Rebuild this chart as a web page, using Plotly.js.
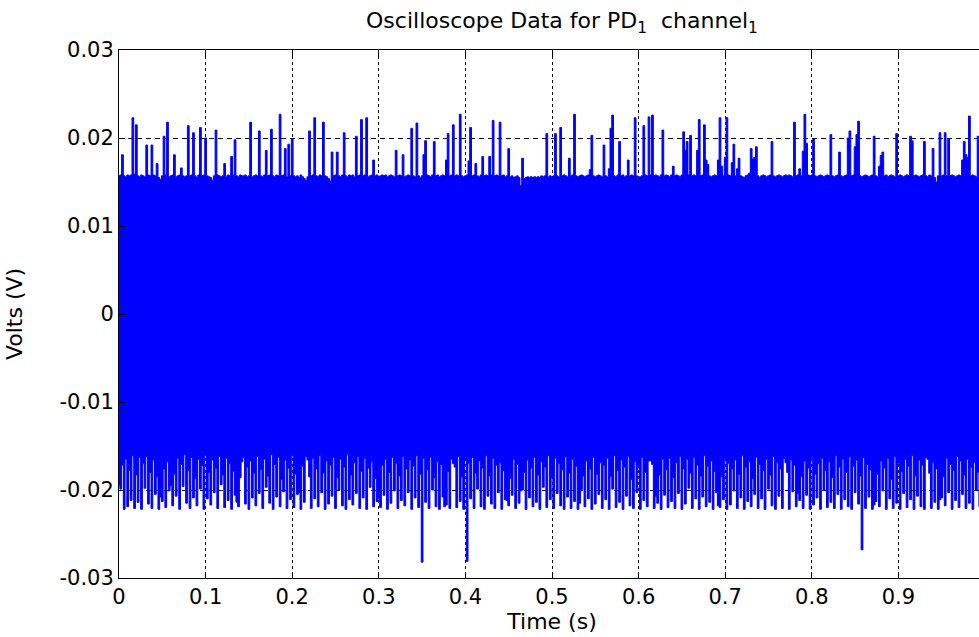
<!DOCTYPE html>
<html>
<head>
<meta charset="utf-8">
<script src="https://cdn.plot.ly/plotly-3.0.1.min.js"></script>
<style>
html,body{margin:0;padding:0;overflow:hidden;background:#ffffff;}
#chart{width:990px;height:637px;}
</style>
</head>
<body>
<div id="chart"></div>
<script>
// Sampling grid of the envelope readings (seconds)
const sampleStart = 0;
const sampleStep = 0.002;

// Upper envelope of the signal (V), one reading per sample
const upperEnvelope = [
0.0157,0.0158,0.0181,0.0157,0.0156,0.0158,0.0157,0.0158,0.0223,0.0159,0.0215,0.0157,0.0156,0.0158,0.0157,0.0156,0.0192,0.0158,0.0157,0.0192,
0.0158,0.0157,0.0171,0.0155,0.0153,0.0157,0.0202,0.0158,0.0218,0.0156,0.0157,0.0158,0.0181,0.0156,0.0157,0.0158,0.0166,0.0157,0.0156,0.0157,
0.0214,0.0157,0.0158,0.0206,0.0157,0.0155,0.0158,0.0212,0.0157,0.0158,0.0200,0.0157,0.0156,0.0155,0.0152,0.0157,0.0209,0.0158,0.0157,0.0156,
0.0157,0.0171,0.0156,0.0158,0.0157,0.0179,0.0158,0.0198,0.0157,0.0156,0.0158,0.0157,0.0157,0.0158,0.0156,0.0157,0.0218,0.0156,0.0157,0.0158,
0.0157,0.0208,0.0157,0.0156,0.0158,0.0186,0.0157,0.0158,0.0210,0.0157,0.0156,0.0158,0.0157,0.0227,0.0157,0.0158,0.0188,0.0156,0.0193,0.0157,
0.0199,0.0157,0.0156,0.0157,0.0155,0.0158,0.0156,0.0154,0.0152,0.0156,0.0208,0.0157,0.0158,0.0223,0.0157,0.0156,0.0158,0.0157,0.0218,0.0157,
0.0156,0.0154,0.0151,0.0184,0.0157,0.0158,0.0184,0.0157,0.0156,0.0158,0.0206,0.0157,0.0156,0.0158,0.0157,0.0158,0.0156,0.0202,0.0157,0.0158,
0.0221,0.0157,0.0158,0.0223,0.0156,0.0157,0.0158,0.0175,0.0157,0.0158,0.0156,0.0157,0.0158,0.0157,0.0158,0.0156,0.0157,0.0158,0.0157,0.0156,
0.0186,0.0157,0.0158,0.0157,0.0181,0.0156,0.0157,0.0158,0.0157,0.0211,0.0157,0.0156,0.0217,0.0157,0.0155,0.0157,0.0181,0.0197,0.0158,0.0157,
0.0156,0.0158,0.0196,0.0157,0.0158,0.0156,0.0157,0.0158,0.0157,0.0175,0.0205,0.0157,0.0158,0.0215,0.0157,0.0158,0.0157,0.0227,0.0157,0.0156,
0.0157,0.0158,0.0174,0.0212,0.0157,0.0158,0.0171,0.0157,0.0156,0.0158,0.0179,0.0157,0.0158,0.0157,0.0179,0.0158,0.0220,0.0157,0.0158,0.0157,
0.0218,0.0157,0.0158,0.0156,0.0157,0.0188,0.0156,0.0157,0.0155,0.0156,0.0157,0.0155,0.0146,0.0177,0.0154,0.0155,0.0156,0.0155,0.0156,0.0155,
0.0156,0.0155,0.0156,0.0155,0.0157,0.0156,0.0157,0.0205,0.0156,0.0157,0.0156,0.0157,0.0205,0.0157,0.0156,0.0212,0.0157,0.0158,0.0157,0.0156,
0.0177,0.0157,0.0158,0.0227,0.0157,0.0156,0.0157,0.0158,0.0157,0.0156,0.0157,0.0158,0.0164,0.0203,0.0157,0.0156,0.0157,0.0158,0.0157,0.0156,
0.0192,0.0157,0.0156,0.0165,0.0211,0.0226,0.0157,0.0156,0.0158,0.0196,0.0157,0.0158,0.0156,0.0157,0.0175,0.0157,0.0158,0.0157,0.0223,0.0157,
0.0153,0.0156,0.0157,0.0214,0.0158,0.0157,0.0224,0.0158,0.0226,0.0157,0.0158,0.0157,0.0156,0.0158,0.0209,0.0157,0.0158,0.0157,0.0156,0.0158,
0.0168,0.0157,0.0158,0.0157,0.0156,0.0158,0.0207,0.0186,0.0196,0.0158,0.0203,0.0157,0.0158,0.0157,0.0186,0.0221,0.0157,0.0158,0.0215,0.0175,
0.0170,0.0157,0.0156,0.0157,0.0158,0.0157,0.0175,0.0223,0.0168,0.0157,0.0178,0.0223,0.0158,0.0157,0.0172,0.0193,0.0157,0.0165,0.0177,0.0157,
0.0156,0.0155,0.0157,0.0158,0.0160,0.0188,0.0176,0.0178,0.0190,0.0157,0.0155,0.0157,0.0158,0.0157,0.0156,0.0157,0.0158,0.0196,0.0157,0.0156,
0.0157,0.0158,0.0157,0.0156,0.0157,0.0158,0.0157,0.0158,0.0157,0.0156,0.0218,0.0157,0.0158,0.0165,0.0157,0.0185,0.0227,0.0194,0.0158,0.0157,
0.0158,0.0199,0.0157,0.0156,0.0157,0.0158,0.0157,0.0156,0.0157,0.0158,0.0157,0.0204,0.0157,0.0156,0.0157,0.0158,0.0184,0.0157,0.0156,0.0157,
0.0158,0.0200,0.0208,0.0157,0.0158,0.0190,0.0204,0.0219,0.0157,0.0156,0.0157,0.0158,0.0157,0.0156,0.0157,0.0158,0.0202,0.0157,0.0156,0.0168,
0.0180,0.0184,0.0157,0.0158,0.0156,0.0157,0.0158,0.0157,0.0156,0.0205,0.0157,0.0158,0.0157,0.0156,0.0157,0.0158,0.0157,0.0202,0.0197,0.0157,
0.0158,0.0157,0.0156,0.0157,0.0158,0.0196,0.0157,0.0156,0.0158,0.0157,0.0188,0.0155,0.0150,0.0157,0.0206,0.0157,0.0158,0.0206,0.0157,0.0199,
0.0157,0.0158,0.0157,0.0156,0.0157,0.0158,0.0157,0.0175,0.0196,0.0181,0.0178,0.0225,0.0157,0.0158,0.0157,0.0156,0.0202,0.0157,0.0158,0.0157
];

// Lower envelope of the signal (V), one reading per sample
const lowerEnvelope = [
-0.0195,-0.0199,-0.0172,-0.0222,-0.0165,-0.0219,-0.0178,-0.0212,-0.0161,-0.0221,-0.0183,-0.0214,-0.0163,-0.0222,-0.0170,-0.0198,-0.0162,-0.0216,-0.0180,-0.0221,
-0.0166,-0.0205,-0.0185,-0.0222,-0.0208,-0.0213,-0.0176,-0.0220,-0.0168,-0.0201,-0.0195,-0.0218,-0.0182,-0.0207,-0.0164,-0.0222,-0.0171,-0.0196,-0.0160,-0.0215,
-0.0178,-0.0221,-0.0163,-0.0209,-0.0187,-0.0218,-0.0165,-0.0199,-0.0172,-0.0222,-0.0161,-0.0210,-0.0180,-0.0217,-0.0166,-0.0203,-0.0175,-0.0221,-0.0162,-0.0194,
-0.0183,-0.0220,-0.0164,-0.0212,-0.0170,-0.0222,-0.0179,-0.0206,-0.0214,-0.0219,-0.0186,-0.0168,-0.0163,-0.0216,-0.0174,-0.0222,-0.0167,-0.0209,-0.0181,-0.0218,
-0.0162,-0.0204,-0.0177,-0.0221,-0.0165,-0.0197,-0.0184,-0.0215,-0.0160,-0.0222,-0.0171,-0.0208,-0.0163,-0.0219,-0.0188,-0.0202,-0.0166,-0.0221,-0.0175,-0.0211,
-0.0161,-0.0220,-0.0182,-0.0205,-0.0203,-0.0222,-0.0173,-0.0214,-0.0162,-0.0166,-0.0185,-0.0221,-0.0164,-0.0210,-0.0176,-0.0219,-0.0161,-0.0203,-0.0181,-0.0222,
-0.0167,-0.0216,-0.0172,-0.0207,-0.0163,-0.0221,-0.0186,-0.0200,-0.0165,-0.0218,-0.0174,-0.0222,-0.0160,-0.0211,-0.0183,-0.0217,-0.0169,-0.0204,-0.0162,-0.0221,
-0.0179,-0.0209,-0.0164,-0.0222,-0.0175,-0.0197,-0.0168,-0.0219,-0.0187,-0.0213,-0.0210,-0.0220,-0.0172,-0.0206,-0.0165,-0.0222,-0.0180,-0.0215,-0.0163,-0.0201,
-0.0170,-0.0221,-0.0184,-0.0212,-0.0162,-0.0218,-0.0176,-0.0203,-0.0166,-0.0222,-0.0173,-0.0209,-0.0161,-0.0220,-0.0182,-0.0282,-0.0164,-0.0214,-0.0177,-0.0221,
-0.0163,-0.0200,-0.0186,-0.0219,-0.0168,-0.0222,-0.0171,-0.0208,-0.0219,-0.0217,-0.0179,-0.0221,-0.0165,-0.0170,-0.0174,-0.0220,-0.0162,-0.0213,-0.0185,-0.0222,
-0.0166,-0.0281,-0.0170,-0.0210,-0.0163,-0.0221,-0.0181,-0.0199,-0.0167,-0.0219,-0.0175,-0.0222,-0.0161,-0.0207,-0.0184,-0.0216,-0.0164,-0.0221,-0.0172,-0.0203,
-0.0169,-0.0222,-0.0178,-0.0211,-0.0212,-0.0218,-0.0187,-0.0206,-0.0165,-0.0221,-0.0171,-0.0215,-0.0201,-0.0200,-0.0180,-0.0222,-0.0166,-0.0209,-0.0175,-0.0219,
-0.0163,-0.0214,-0.0183,-0.0222,-0.0168,-0.0197,-0.0174,-0.0220,-0.0161,-0.0211,-0.0186,-0.0221,-0.0164,-0.0204,-0.0170,-0.0218,-0.0177,-0.0222,-0.0162,-0.0208,
-0.0181,-0.0221,-0.0165,-0.0213,-0.0173,-0.0222,-0.0215,-0.0201,-0.0184,-0.0219,-0.0167,-0.0210,-0.0176,-0.0222,-0.0163,-0.0216,-0.0182,-0.0205,-0.0169,-0.0221,
-0.0172,-0.0211,-0.0164,-0.0222,-0.0185,-0.0199,-0.0161,-0.0220,-0.0178,-0.0214,-0.0166,-0.0222,-0.0174,-0.0207,-0.0162,-0.0218,-0.0188,-0.0221,-0.0168,-0.0203,
-0.0175,-0.0222,-0.0163,-0.0212,-0.0180,-0.0219,-0.0167,-0.0167,-0.0171,-0.0221,-0.0207,-0.0215,-0.0183,-0.0222,-0.0165,-0.0206,-0.0177,-0.0220,-0.0164,-0.0213,
-0.0186,-0.0221,-0.0169,-0.0204,-0.0162,-0.0222,-0.0176,-0.0216,-0.0165,-0.0198,-0.0181,-0.0221,-0.0163,-0.0210,-0.0172,-0.0222,-0.0184,-0.0208,-0.0161,-0.0219,
-0.0173,-0.0214,-0.0167,-0.0222,-0.0179,-0.0203,-0.0218,-0.0220,-0.0185,-0.0211,-0.0164,-0.0222,-0.0170,-0.0217,-0.0176,-0.0201,-0.0166,-0.0221,-0.0182,-0.0209,
-0.0161,-0.0222,-0.0174,-0.0213,-0.0168,-0.0219,-0.0187,-0.0205,-0.0163,-0.0221,-0.0171,-0.0210,-0.0178,-0.0222,-0.0165,-0.0199,-0.0183,-0.0218,-0.0162,-0.0222,
-0.0169,-0.0207,-0.0176,-0.0221,-0.0164,-0.0169,-0.0180,-0.0222,-0.0166,-0.0202,-0.0172,-0.0219,-0.0204,-0.0212,-0.0185,-0.0221,-0.0167,-0.0206,-0.0175,-0.0222,
-0.0163,-0.0217,-0.0182,-0.0209,-0.0170,-0.0222,-0.0164,-0.0200,-0.0178,-0.0220,-0.0168,-0.0214,-0.0186,-0.0221,-0.0161,-0.0205,-0.0174,-0.0222,-0.0165,-0.0211,
-0.0180,-0.0219,-0.0162,-0.0222,-0.0173,-0.0203,-0.0166,-0.0216,-0.0184,-0.0268,-0.0163,-0.0221,-0.0171,-0.0208,-0.0177,-0.0222,-0.0217,-0.0213,-0.0182,-0.0219,
-0.0167,-0.0201,-0.0175,-0.0222,-0.0164,-0.0210,-0.0188,-0.0221,-0.0162,-0.0215,-0.0170,-0.0222,-0.0179,-0.0204,-0.0165,-0.0220,-0.0173,-0.0211,-0.0161,-0.0222,
-0.0184,-0.0207,-0.0166,-0.0219,-0.0172,-0.0222,-0.0163,-0.0165,-0.0181,-0.0221,-0.0169,-0.0214,-0.0176,-0.0222,-0.0211,-0.0209,-0.0185,-0.0218,-0.0164,-0.0203,
-0.0171,-0.0222,-0.0178,-0.0212,-0.0162,-0.0220,-0.0167,-0.0205,-0.0183,-0.0221,-0.0165,-0.0215,-0.0174,-0.0222,-0.0169,-0.0200,-0.0180,-0.0219,-0.0163,-0.0214
];

// Axis ticks
const xTickVals = [0, 0.1, 0.2, 0.3, 0.4, 0.5, 0.6, 0.7, 0.8, 0.9];
const xTickText = ['0', '0.1', '0.2', '0.3', '0.4', '0.5', '0.6', '0.7', '0.8', '0.9'];
const yTickVals = [-0.03, -0.02, -0.01, 0, 0.01, 0.02, 0.03];
const yTickText = ['-0.03', '-0.02', '-0.01', '0', '0.01', '0.02', '0.03'];

const chartTitle = 'Oscilloscope Data for PD<sub>1</sub>  channel<sub>1</sub>';
const xTitle = 'Time (s)';
const yTitle = 'Volts (V)';

const blue = '#0000ff';
const FONT = 'DejaVu Sans, Liberation Sans, Arial, sans-serif';

const traces = [
  {
    type: 'scatter', mode: 'lines',
    x0: sampleStart, dx: sampleStep, y: lowerEnvelope,
    line: {color: blue, width: 1, shape: 'hvh'},
    hoverinfo: 'skip', showlegend: false
  },
  {
    type: 'scatter', mode: 'lines',
    x0: sampleStart, dx: sampleStep, y: upperEnvelope,
    fill: 'tonexty', fillcolor: blue,
    line: {color: blue, width: 1, shape: 'hvh'},
    hoverinfo: 'skip', showlegend: false
  }
];

const axisCommon = {
  ticks: 'inside', ticklen: 6, tickwidth: 1, tickcolor: '#000',
  showline: true, linecolor: '#000', linewidth: 1, mirror: 'ticks',
  showgrid: true, gridcolor: '#000', gridwidth: 1,
  zeroline: false, automargin: false,
  tickfont: {family: FONT, size: 21, color: '#000'}
};

const layout = {
  width: 990, height: 637,
  margin: {l: 119, r: 5, t: 50, b: 59, pad: 0},
  paper_bgcolor: '#ffffff', plot_bgcolor: '#ffffff',
  showlegend: false,
  font: {family: FONT, size: 21, color: '#000'},
  title: {
    text: chartTitle, x: 0.5115, xref: 'paper', xanchor: 'center',
    y: 0.968, yref: 'container', yanchor: 'middle',
    font: {family: FONT, size: 22, color: '#000'}
  },
  xaxis: Object.assign({}, axisCommon, {
    range: [0, 1], tickmode: 'array', tickvals: xTickVals, ticktext: xTickText,
    griddash: '3px,3px',
    title: {text: xTitle, standoff: 5, font: {family: FONT, size: 22, color: '#000'}}
  }),
  yaxis: Object.assign({}, axisCommon, {
    range: [-0.03, 0.03], tickmode: 'array', tickvals: yTickVals, ticktext: yTickText,
    griddash: '5px,4px',
    title: {text: yTitle, standoff: 30, font: {family: FONT, size: 22, color: '#000'}}
  })
};

Plotly.newPlot('chart', traces, layout, {displayModeBar: false, staticPlot: true});
</script>
</body>
</html>
